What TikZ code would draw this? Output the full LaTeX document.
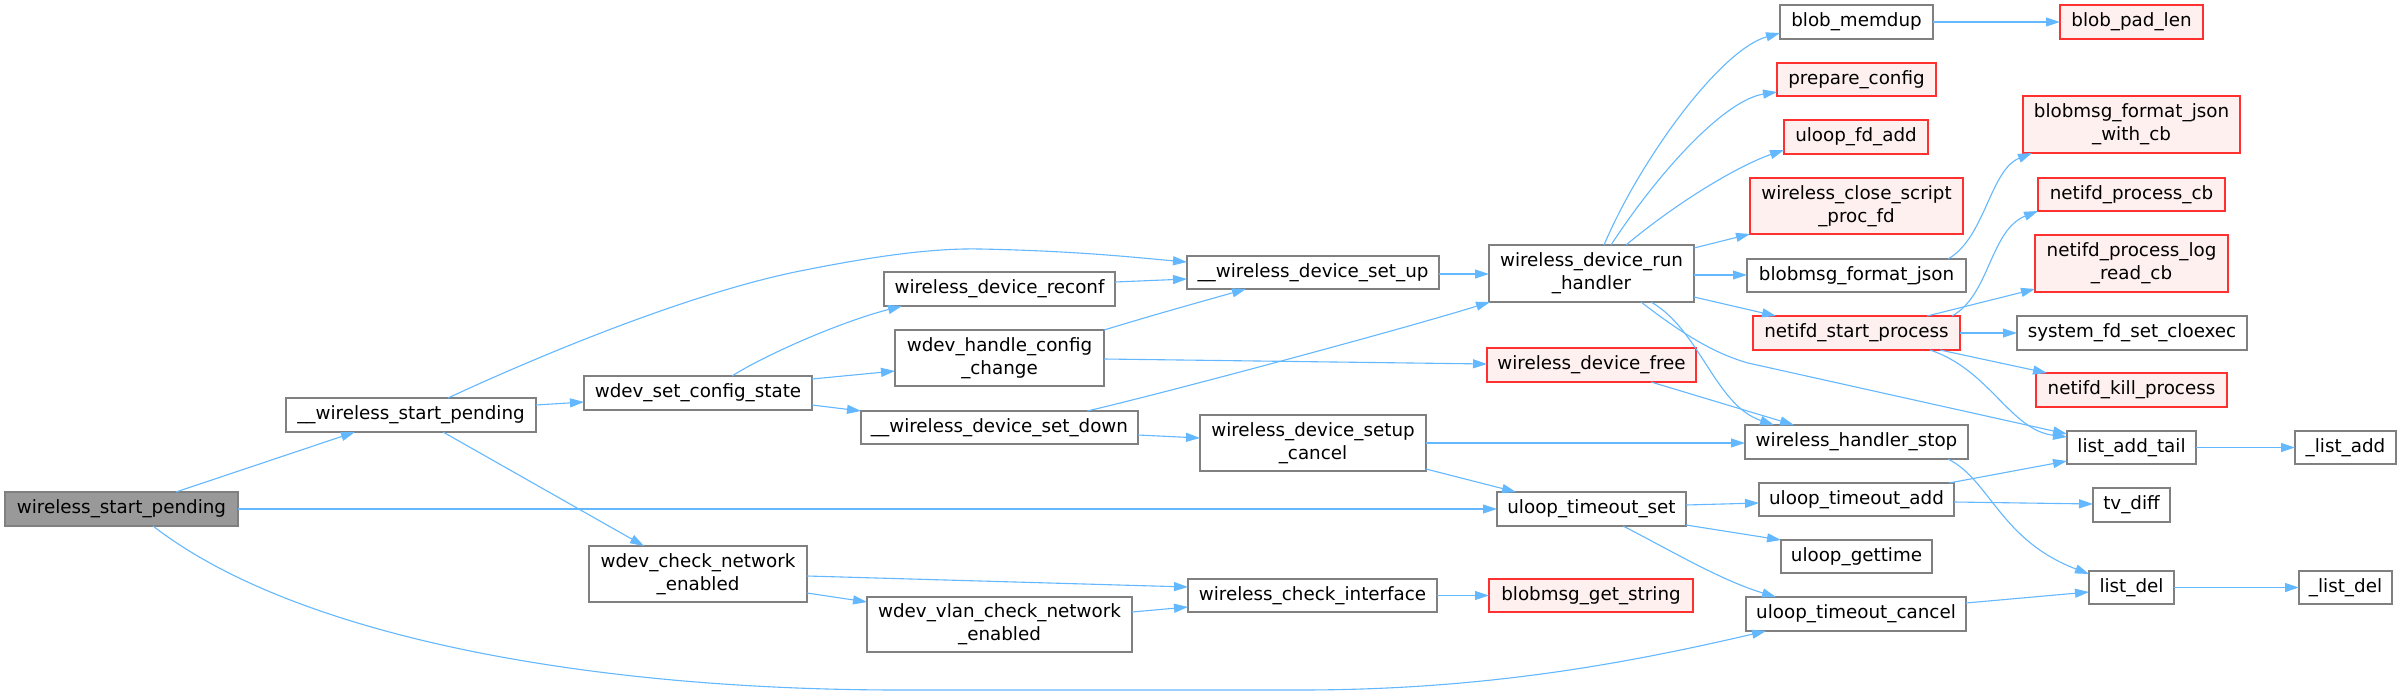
\documentclass[tikz,border=0pt]{standalone}
\usepackage{fontspec}
\setmainfont{DejaVu Sans}
\usetikzlibrary{arrows.meta}
\definecolor{edgeblue}{HTML}{63B8FF}
\definecolor{nodegray}{HTML}{808080}
\definecolor{rootfill}{HTML}{999999}
\definecolor{redfill}{HTML}{FFF0F0}
\definecolor{redline}{HTML}{FF3030}
\tikzset{
  nd/.style={draw=nodegray, fill=white, line width=1.2pt, rectangle, inner sep=0pt, outer sep=0pt,
    align=center, font=\fontsize{18.3}{23}\selectfont},
  rootnd/.style={nd, fill=rootfill},
  rednd/.style={nd, draw=redline, fill=redfill},
  edge/.style={draw=edgeblue, line width=1.1pt, -{Triangle[length=14pt,width=9pt]}},
}
\newcommand{\bx}[7]{% style, name, x1, x2, y1, y2, text
  \node[#1, minimum width={#4-#3}, minimum height={#6-#5}] (#2) at ({(#3+#4)/2},{(#5+#6)/2}) {#7};}
\begin{document}
\begin{tikzpicture}[x=1pt,y=-1pt]
\fill[white] (0,0) rectangle (2402,696);
\useasboundingbox (0,0) rectangle (2402,696);
% column 0
\bx{rootnd}{wsp}{5}{238}{492}{526}{wireless\_start\_pending}
% column 1
\bx{nd}{uwsp}{286}{536}{398}{432}{\_\_wireless\_start\_pending}
% column 2
\bx{nd}{wscs}{584}{812}{376}{410}{wdev\_set\_config\_state}
\bx{nd}{wcne}{589}{807}{546}{602}{wdev\_check\_network\\\_enabled}
% column 3
\bx{nd}{wdr}{884}{1115}{272}{306}{wireless\_device\_reconf}
\bx{nd}{whcc}{895}{1104}{330}{386}{wdev\_handle\_config\\\_change}
\bx{nd}{uwdsd}{861}{1138}{411}{444}{\_\_wireless\_device\_set\_down}
\bx{nd}{wvcne}{867}{1132}{597}{652}{wdev\_vlan\_check\_network\\\_enabled}
% column 4
\bx{nd}{uwdsu}{1187}{1439}{256}{289}{\_\_wireless\_device\_set\_up}
\bx{nd}{wdsc}{1200}{1426}{415}{471}{wireless\_device\_setup\\\_cancel}
\bx{nd}{wci}{1188}{1437}{579}{612}{wireless\_check\_interface}
% column 5
\bx{nd}{wdrh}{1489}{1694}{245}{302}{wireless\_device\_run\\\_handler}
\bx{rednd}{wdf}{1487}{1696}{348}{382}{wireless\_device\_free}
\bx{nd}{uts}{1497}{1686}{492}{526}{uloop\_timeout\_set}
\bx{rednd}{bgs}{1489}{1693}{579}{612}{blobmsg\_get\_string}
% column 6
\bx{nd}{bmd}{1780}{1933}{5}{39}{blob\_memdup}
\bx{rednd}{pc}{1777}{1936}{63}{96}{prepare\_config}
\bx{rednd}{ufa}{1784}{1928}{120}{154}{uloop\_fd\_add}
\bx{rednd}{wcspf}{1750}{1963}{178}{234}{wireless\_close\_script\\\_proc\_fd}
\bx{nd}{bfj}{1747}{1966}{259}{292}{blobmsg\_format\_json}
\bx{rednd}{nsp}{1753}{1960}{316}{350}{netifd\_start\_process}
\bx{nd}{whs}{1745}{1968}{425}{459}{wireless\_handler\_stop}
\bx{nd}{uta}{1759}{1954}{483}{516}{uloop\_timeout\_add}
\bx{nd}{ug}{1781}{1932}{540}{573}{uloop\_gettime}
\bx{nd}{utc}{1746}{1966}{597}{631}{uloop\_timeout\_cancel}
% column 7
\bx{rednd}{bpl}{2060}{2203}{5}{39}{blob\_pad\_len}
\bx{rednd}{bfjcb}{2023}{2240}{96}{153}{blobmsg\_format\_json\\\_with\_cb}
\bx{rednd}{npc}{2038}{2225}{178}{211}{netifd\_process\_cb}
\bx{rednd}{nplrc}{2035}{2228}{235}{292}{netifd\_process\_log\\\_read\_cb}
\bx{nd}{sfsc}{2017}{2247}{316}{350}{system\_fd\_set\_cloexec}
\bx{rednd}{nkp}{2036}{2227}{373}{407}{netifd\_kill\_process}
\bx{nd}{lat}{2067}{2196}{431}{464}{list\_add\_tail}
\bx{nd}{td}{2093}{2170}{488}{522}{tv\_diff}
\bx{nd}{ld}{2089}{2174}{571}{604}{list\_del}
% column 8
\bx{nd}{la}{2295}{2396}{431}{464}{\_list\_add}
\bx{nd}{lds}{2299}{2392}{571}{604}{\_list\_del}

% edges
\draw[edge] (176,0 |- wsp.north) -- (355,0 |- uwsp.south);
\draw[edge] (wsp.east) -- (uts.west);
\draw[edge] (153,0 |- wsp.south) .. controls (300,640) and (600,690) .. (900,690) -- (1300,690) .. controls (1480,690) and (1620,665) .. (1766,0 |- utc.south);
\draw[edge] (448,0 |- uwsp.north) .. controls (560,346) and (700,291) .. (800,271) .. controls (870,257) and (930,248) .. (980,249) .. controls (1080,251) and (1140,258) .. (uwdsu.west |- 0,262);
\draw[edge] (uwsp.east |- 0,405) -- (wscs.west |- 0,402);
\draw[edge] (443,0 |- uwsp.south) -- (644,0 |- wcne.north);
\draw[edge] (732,0 |- wscs.north) .. controls (765,355) and (840,322) .. (902,0 |- wdr.south);
\draw[edge] (wscs.east |- 0,379) -- (whcc.west |- 0,371);
\draw[edge] (wscs.east |- 0,405) -- (uwdsd.north west);
\draw[edge] (wdr.east |- 0,282) -- (uwdsu.west |- 0,279);
\draw[edge] (whcc.north east) .. controls (1160,313) and (1200,302) .. (1246,0 |- uwdsu.south);
\draw[edge] (whcc.east |- 0,359) -- (wdf.west |- 0,364);
\draw[edge] (1087,0 |- uwdsd.north) .. controls (1157,395) and (1400,330) .. (1490,0 |- wdrh.south);
\draw[edge] (uwdsd.east |- 0,435) -- (wdsc.west |- 0,438);
\draw[edge] (uwdsu.east |- 0,274) -- (wdrh.west |- 0,274);
\draw[edge] (wdsc.east |- 0,443) -- (whs.west |- 0,443);
\draw[edge] (wdsc.east |- 0,469) -- (1516,0 |- uts.north);
\draw[edge] (wcne.east |- 0,576) -- (wci.west |- 0,587);
\draw[edge] (wcne.east |- 0,593) -- (wvcne.west |- 0,602);
\draw[edge] (wvcne.east |- 0,612) -- (wci.west |- 0,607);
\draw[edge] (wci.east) -- (bgs.west);
\draw[edge] (1604,0 |- wdrh.north) .. controls (1640,160) and (1720,50) .. (bmd.west |- 0,33);
\draw[edge] (1611,0 |- wdrh.north) .. controls (1660,170) and (1725,100) .. (pc.west |- 0,92);
\draw[edge] (1626,0 |- wdrh.north) .. controls (1680,200) and (1740,165) .. (ufa.west |- 0,150);
\draw[edge] (wdrh.east |- 0,248) -- (wcspf.south west);
\draw[edge] (wdrh.east |- 0,275) -- (bfj.west |- 0,275);
\draw[edge] (wdrh.east |- 0,297) -- (1776,0 |- nsp.north);
\draw[edge] (1651,0 |- wdrh.south) .. controls (1700,330) and (1715,405) .. (1774,0 |- whs.north);
\draw[edge] (1641,0 |- wdrh.south) .. controls (1690,340) and (1720,355) .. (1748,363) -- (lat.west |- 0,434);
\draw[edge] (1651,0 |- wdf.south) -- (1794,0 |- whs.north);
\draw[edge] (1948,0 |- bfj.north) .. controls (1985,238) and (1990,170) .. (2032,0 |- bfjcb.south);
\draw[edge] (1952,0 |- nsp.north) .. controls (1990,295) and (1990,230) .. (npc.south west);
\draw[edge] (1927,0 |- nsp.north) -- (nplrc.west |- 0,289);
\draw[edge] (nsp.east) -- (sfsc.west);
\draw[edge] (1940,0 |- nsp.south) -- (2047,0 |- nkp.north);
\draw[edge] (1930,0 |- nsp.south) .. controls (1990,370) and (2010,430) .. (lat.west |- 0,437);
\draw[edge] (bmd.east) -- (bpl.west);
\draw[edge] (lat.east) -- (la.west);
\draw[edge] (1948,0 |- whs.south) .. controls (1990,480) and (2000,540) .. (ld.west |- 0,574);
\draw[edge] (uts.east |- 0,505) -- (uta.west |- 0,503);
\draw[edge] (uts.east |- 0,525) -- (ug.north west);
\draw[edge] (1623,0 |- uts.south) .. controls (1670,550) and (1720,580) .. (1776,0 |- utc.north);
\draw[edge] (1949,0 |- uta.north) -- (lat.west |- 0,461);
\draw[edge] (uta.east |- 0,502) -- (td.west |- 0,504);
\draw[edge] (utc.east |- 0,603) -- (ld.west |- 0,592);
\draw[edge] (ld.east) -- (lds.west);
\end{tikzpicture}
\end{document}
